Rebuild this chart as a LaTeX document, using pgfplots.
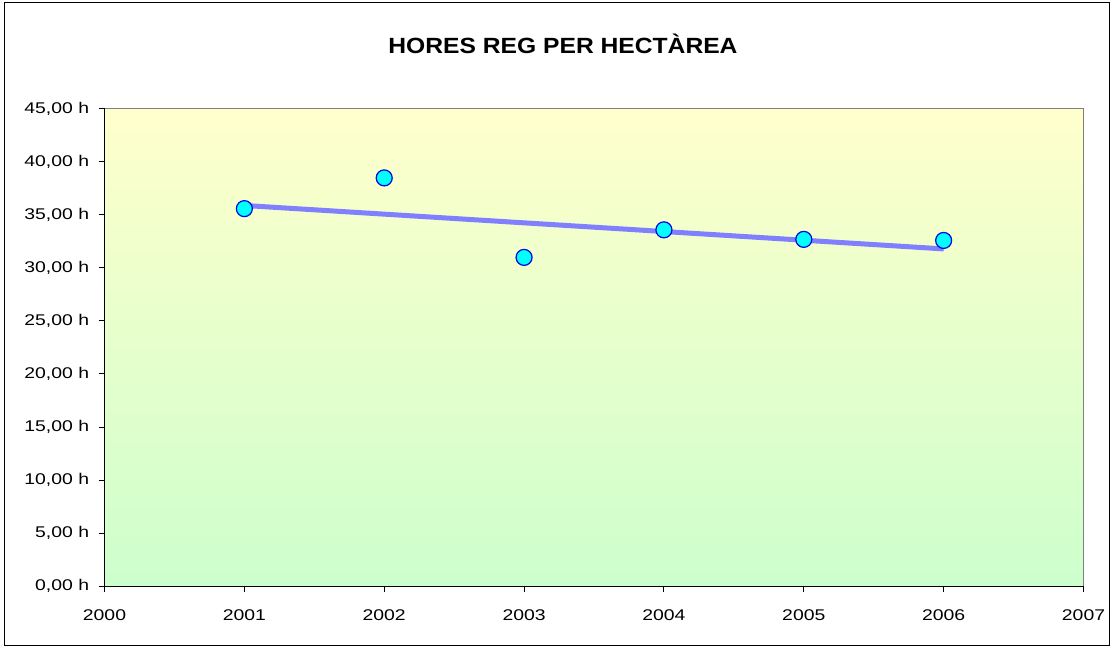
\documentclass[border=0pt]{standalone}
\usepackage{pgfplots}
\pgfplotsset{compat=1.18}
\usepackage{fontspec}
\setmainfont{Liberation Sans}
\definecolor{bgtop}{HTML}{FFFFCC}
\definecolor{bgbot}{HTML}{CCFFCC}
\definecolor{trend}{HTML}{8080FF}
\definecolor{mk}{HTML}{00FFFF}
\definecolor{mkedge}{HTML}{0000E0}
\begin{document}
\begin{tikzpicture}
\useasboundingbox (0pt,0pt) rectangle (1113pt,648pt);
\draw[black, line width=1pt] (4.5pt,2.5pt) rectangle (1109.5pt,645.5pt);
\node[font=\fontsize{22}{26}\selectfont\bfseries, xscale=1.12] at (563pt,604pt) {HORES REG PER HECTÀREA};
\begin{axis}[
  at={(104.5pt,62pt)}, anchor=south west,
  scale only axis, width=979pt, height=477pt,
  xmin=2000, xmax=2007, ymin=0, ymax=45,
  axis x line*=bottom, axis y line*=left,
  axis line style={black, line width=1pt},
  axis background/.style={shade, top color=bgtop, bottom color=bgbot},
  xtick={2000,2001,2002,2003,2004,2005,2006,2007},
  xticklabels={2000,2001,2002,2003,2004,2005,2006,2007},
  ytick={0,5,10,15,20,25,30,35,40,45},
  yticklabels={{0,00 h},{5,00 h},{10,00 h},{15,00 h},{20,00 h},{25,00 h},{30,00 h},{35,00 h},{40,00 h},{45,00 h}},
  tick align=outside, major tick length=6pt,
  tick style={black, line width=1pt},
  ticklabel style={font=\fontsize{15.5}{18}\selectfont, xscale=1.25},
  xticklabel style={yshift=-14pt},
  yticklabel style={xshift=-4pt},
  clip=false,
]
\addplot[only marks, mark=*, mark size=8pt, mark options={fill=mk, draw=mkedge, line width=1.2pt}]
  coordinates {(2001,35.6) (2002,38.5) (2003,31.0) (2004,33.6) (2005,32.7) (2006,32.6)};
\addplot[trend, line width=5pt] coordinates {(2001,35.9) (2006,31.8)};
\draw[gray, line width=1pt] (rel axis cs:0,1) -- (rel axis cs:1,1) -- (rel axis cs:1,0);
\end{axis}
\end{tikzpicture}
\end{document}
